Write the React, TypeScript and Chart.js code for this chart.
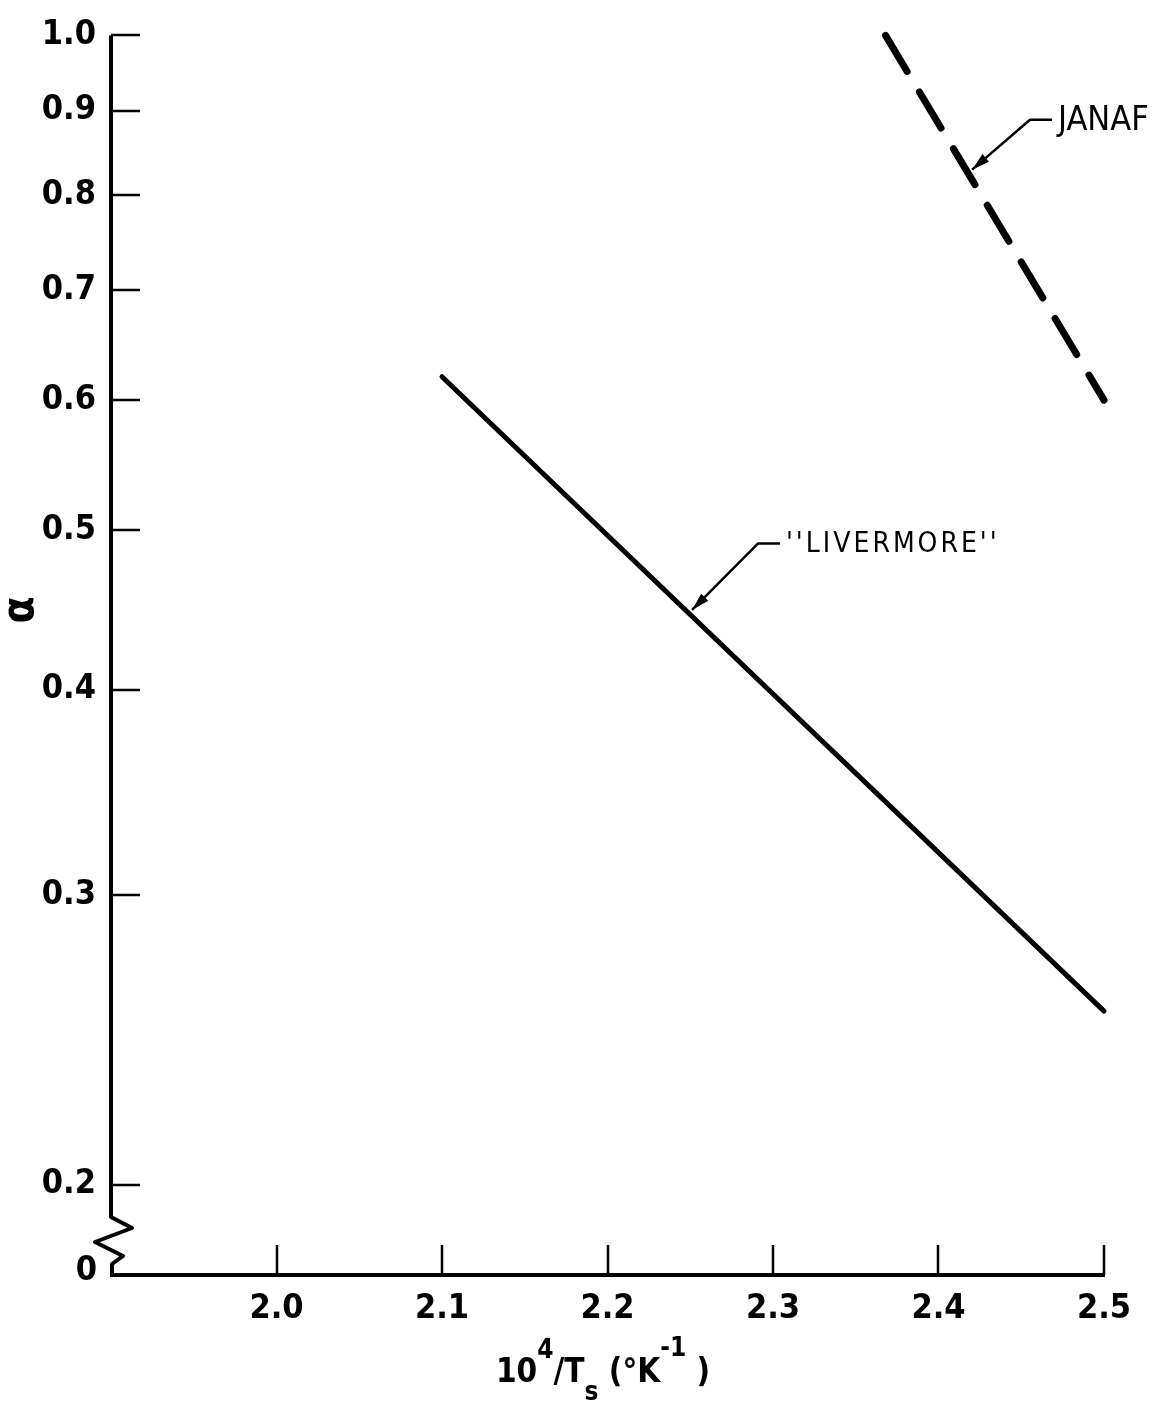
import React, { useEffect, useRef } from "react";
import { Chart, registerables } from "chart.js";

Chart.register(...registerables);

// ---- data ----
const xTicks = [2.0, 2.1, 2.2, 2.3, 2.4, 2.5];
const yTicks = [0.2, 0.3, 0.4, 0.5, 0.6, 0.7, 0.8, 0.9, 1.0];
const xRange = [1.9, 2.5];
const yRange = [0.1762, 1.0];

const livermoreX = [2.1, 2.5];
const livermoreY = [0.62, 0.255];

const janafX = [2.368, 2.5];
const janafY = [1.0, 0.6];

// annotation leaders in data coordinates: arrow tip, elbow, end of horizontal stub
const janafNote = { text: "JANAF", tip: [2.4203, 0.8286], elbow: [2.4553, 0.8885], endX: 2.4686 };
const livermoreNote = { text: "''LIVERMORE''", tip: [2.2511, 0.4472], elbow: [2.291, 0.4909], endX: 2.3042 };

const FONT = '"Liberation Sans Narrow", "DejaVu Sans Condensed", "Liberation Sans", sans-serif';

const overlayPlugin = {
  id: "overlay",
  afterDraw(chart: any) {
    const ctx = chart.ctx as CanvasRenderingContext2D;
    const xs = chart.scales.x;
    const ys = chart.scales.y;
    const area = chart.chartArea;
    const left = area.left;
    const bottom = area.bottom;
    const top = ys.getPixelForValue(yTicks[yTicks.length - 1]);
    const right = xs.getPixelForValue(xTicks[xTicks.length - 1]);
    ctx.save();
    ctx.strokeStyle = "#000";
    ctx.fillStyle = "#000";
    ctx.lineCap = "butt";
    ctx.lineJoin = "round";

    // y axis with break zigzag
    ctx.lineWidth = 4;
    ctx.beginPath();
    ctx.moveTo(left, top);
    ctx.lineTo(left, bottom - 58);
    ctx.lineTo(left + 21, bottom - 47);
    ctx.lineTo(left - 16, bottom - 33);
    ctx.lineTo(left + 12, bottom - 19);
    ctx.lineTo(left + 1, bottom - 11);
    ctx.lineTo(left + 1, bottom);
    ctx.stroke();

    // x axis
    ctx.beginPath();
    ctx.moveTo(left - 1, bottom);
    ctx.lineTo(right + 1, bottom);
    ctx.stroke();

    // inward ticks
    ctx.lineWidth = 2.5;
    for (const v of yTicks) {
      const py = Math.round(ys.getPixelForValue(v));
      ctx.beginPath();
      ctx.moveTo(left, py);
      ctx.lineTo(left + 29, py);
      ctx.stroke();
    }
    for (const v of xTicks) {
      const px = Math.round(xs.getPixelForValue(v));
      ctx.beginPath();
      ctx.moveTo(px, bottom);
      ctx.lineTo(px, bottom - 30);
      ctx.stroke();
    }

    // "0" label at the axis break
    ctx.font = `bold 34px ${FONT}`;
    ctx.textAlign = "right";
    ctx.textBaseline = "middle";
    ctx.fillText("0", left - 14, bottom - 4);

    // annotations
    const drawNote = (note: any, fontSize: number, spacing: number) => {
      const tx = xs.getPixelForValue(note.tip[0]);
      const ty = ys.getPixelForValue(note.tip[1]);
      const ex = xs.getPixelForValue(note.elbow[0]);
      const ey = ys.getPixelForValue(note.elbow[1]);
      const hx = xs.getPixelForValue(note.endX);
      ctx.lineWidth = 2.5;
      ctx.beginPath();
      ctx.moveTo(hx, ey);
      ctx.lineTo(ex, ey);
      ctx.lineTo(tx, ty);
      ctx.stroke();
      // arrow head
      const ang = Math.atan2(ty - ey, tx - ex);
      const len = 18;
      const w = 5;
      ctx.beginPath();
      ctx.moveTo(tx, ty);
      ctx.lineTo(tx - len * Math.cos(ang) + w * Math.sin(ang), ty - len * Math.sin(ang) - w * Math.cos(ang));
      ctx.lineTo(tx - len * Math.cos(ang) - w * Math.sin(ang), ty - len * Math.sin(ang) + w * Math.cos(ang));
      ctx.closePath();
      ctx.fill();
      ctx.font = `${fontSize}px ${FONT}`;
      (ctx as any).letterSpacing = `${spacing}px`;
      ctx.textAlign = "left";
      ctx.textBaseline = "middle";
      ctx.fillText(note.text, hx + 6, ey + 1);
      (ctx as any).letterSpacing = "0px";
    };
    drawNote(janafNote, 34, 0);
    drawNote(livermoreNote, 28, 3);

    // y title (alpha), rotated
    ctx.save();
    ctx.translate(22, 610);
    ctx.rotate(-Math.PI / 2);
    ctx.font = `bold 44px ${FONT}`;
    ctx.textAlign = "center";
    ctx.textBaseline = "middle";
    ctx.fillText("\u03b1", 0, 0);
    ctx.restore();

    // x title: 10^4/T_s (°K^-1)
    const base = 1382;
    const big = `bold 33px ${FONT}`;
    const small = `bold 26px ${FONT}`;
    const parts: [string, string, number][] = [
      ["10", big, 0],
      ["4", small, -24],
      ["/", big, 0],
      ["T", big, 0],
      ["s", small, 18],
      [" (\u00b0K", big, 0],
      ["-1", small, -26],
      [" )", big, 0],
    ];
    let total = 0;
    for (const [t, f] of parts) {
      ctx.font = f;
      total += ctx.measureText(t).width;
    }
    let cx = 603 - total / 2;
    ctx.textAlign = "left";
    ctx.textBaseline = "alphabetic";
    for (const [t, f, dy] of parts) {
      ctx.font = f;
      ctx.fillText(t, cx, base + dy);
      cx += ctx.measureText(t).width;
    }
    ctx.restore();
  },
};

export default function App() {
  const ref = useRef<HTMLCanvasElement | null>(null);
  useEffect(() => {
    if (!ref.current) return;
    const chart = new Chart(ref.current, {
      type: "line",
      data: {
        datasets: [
          {
            label: "\"LIVERMORE\"",
            data: livermoreX.map((x, i) => ({ x, y: livermoreY[i] })),
            borderColor: "#000",
            borderWidth: 5,
            borderCapStyle: "round",
            pointRadius: 0,
            fill: false,
            tension: 0,
            clip: false,
          },
          {
            label: "JANAF",
            data: janafX.map((x, i) => ({ x, y: janafY[i] })),
            borderColor: "#000",
            borderWidth: 7,
            borderDash: [42, 24],
            borderCapStyle: "round",
            pointRadius: 0,
            fill: false,
            tension: 0,
            clip: false,
          },
        ],
      },
      options: {
        responsive: false,
        animation: false,
        devicePixelRatio: 1,
        layout: { padding: { top: 28, right: 52, left: 0, bottom: 0 } },
        plugins: { legend: { display: false }, tooltip: { enabled: false }, title: { display: false } },
        scales: {
          x: {
            type: "linear",
            position: "bottom",
            min: xRange[0],
            max: xRange[1],
            afterBuildTicks: (s: any) => {
              s.ticks = xTicks.map((v) => ({ value: v }));
            },
            afterFit: (s: any) => {
              s.height = 131;
            },
            ticks: {
              autoSkip: false,
              maxRotation: 0,
              padding: 14,
              color: "#000",
              font: { family: FONT, size: 34, weight: "bold" },
              callback: (v: any) => Number(v).toFixed(1),
            },
            grid: { display: false, drawTicks: false },
            border: { display: false },
          },
          y: {
            type: "logarithmic",
            position: "left",
            min: yRange[0],
            max: yRange[1],
            afterBuildTicks: (s: any) => {
              s.ticks = yTicks.map((v) => ({ value: v }));
            },
            afterFit: (s: any) => {
              s.width = 111;
            },
            ticks: {
              autoSkip: false,
              padding: 15,
              color: "#000",
              font: { family: FONT, size: 34, weight: "bold" },
              callback: (v: any) => Number(v).toFixed(1),
            },
            grid: { display: false, drawTicks: false },
            border: { display: false },
          },
        },
      },
      plugins: [overlayPlugin],
    } as any);
    return () => chart.destroy();
  }, []);
  return (
    <div style={{ position: "absolute", left: 0, top: 0, width: 1156, height: 1406, background: "#fff" }}>
      <canvas ref={ref} width={1156} height={1406} style={{ display: "block", width: 1156, height: 1406 }} />
    </div>
  );
}
